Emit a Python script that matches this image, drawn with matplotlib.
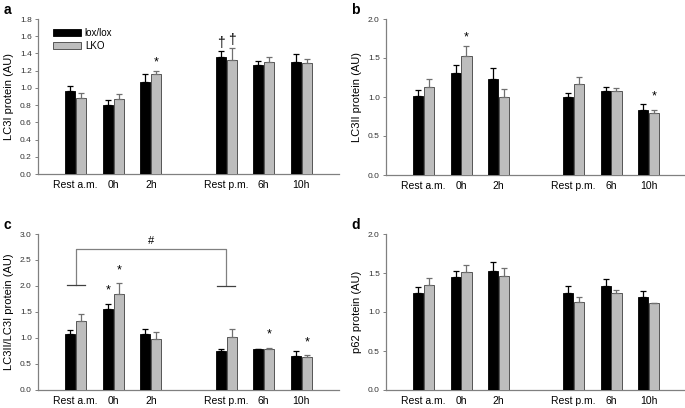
import matplotlib.pyplot as plt
import numpy as np

plt.rcParams['font.family'] = ['Liberation Sans', 'DejaVu Sans']

# kategorie na osi x (pozycje 0,1,2 i 4,5,6 - przerwa miedzy a.m. i p.m.)
kategorie = ['Rest a.m.', '0h', '2h', 'Rest p.m.', '6h', '10h']
pozycje = [0, 1, 2, 4, 5, 6]

# panel a - LC3I
a_lox = [0.966, 0.803, 1.074, 1.356, 1.267, 1.306]
a_lox_err = [0.058, 0.058, 0.085, 0.069, 0.050, 0.088]
a_lko = [0.880, 0.873, 1.159, 1.321, 1.298, 1.294]
a_lko_err = [0.060, 0.054, 0.042, 0.139, 0.058, 0.046]

# panel b - LC3II
b_lox = [1.011, 1.306, 1.225, 0.994, 1.071, 0.827]
b_lox_err = [0.085, 0.107, 0.141, 0.060, 0.051, 0.085]
b_lko = [1.122, 1.529, 0.994, 1.161, 1.071, 0.792]
b_lko_err = [0.103, 0.120, 0.107, 0.098, 0.042, 0.047]

# panel c - LC3II/LC3I
c_lox = [1.073, 1.554, 1.085, 0.751, 0.784, 0.655]
c_lox_err = [0.083, 0.109, 0.097, 0.045, 0.012, 0.090]
c_lko = [1.329, 1.843, 0.976, 1.028, 0.784, 0.629]
c_lko_err = [0.135, 0.212, 0.135, 0.141, 0.025, 0.039]

# panel d - p62
d_lox = [1.250, 1.443, 1.520, 1.238, 1.336, 1.195]
d_lox_err = [0.069, 0.082, 0.120, 0.098, 0.086, 0.068]
d_lko = [1.345, 1.507, 1.460, 1.131, 1.238, 1.118]
d_lko_err = [0.090, 0.095, 0.103, 0.059, 0.047, 0.0]

SZARY = '#bdbdbd'
OS = '#808080'
W = 0.27


def panel(ax, lox, lox_err, lko, lko_err, ymax, krok, ylabel, litera):
    x = np.array(pozycje, dtype=float)
    ax.bar(x - W / 2 - 0.01, lox, W, color='black', edgecolor='black', linewidth=0.6,
           yerr=[np.zeros(6), lox_err], error_kw=dict(ecolor='black', elinewidth=0.9,
                                                    capsize=2.5, capthick=0.9),
           label='lox/lox', zorder=3)
    ax.bar(x + W / 2 + 0.01, lko, W, color=SZARY, edgecolor='#404040', linewidth=0.6,
           yerr=[np.zeros(6), lko_err], error_kw=dict(ecolor='#707070', elinewidth=0.9,
                                                    capsize=2.5, capthick=0.9),
           label='LKO', zorder=3)
    ax.set_xlim(-1, 7)
    ax.set_ylim(0, ymax)
    ticki = np.arange(0, ymax + 1e-9, krok)
    ax.set_yticks(ticki)
    ax.set_yticklabels([f'{v:.1f}' for v in ticki], fontsize=6, color='#333333')
    ax.set_xticks(pozycje)
    ax.set_xticklabels(kategorie, fontsize=7.5)
    ax.tick_params(axis='x', length=0, pad=4)
    ax.tick_params(axis='y', length=2.5, width=0.7, color=OS, pad=2)
    for s in ['top', 'right']:
        ax.spines[s].set_visible(False)
    for s in ['left', 'bottom']:
        ax.spines[s].set_color(OS)
        ax.spines[s].set_linewidth(0.9)
    ax.set_ylabel(ylabel, fontsize=8, labelpad=4)
    ax.text(-0.115, 1.10, litera, transform=ax.transAxes, fontsize=10,
            fontweight='bold', va='top', ha='left')


fig = plt.figure(figsize=(6.85, 4.08), dpi=100)
ax_a = fig.add_axes([38 / 685, 1 - 174 / 408, 301 / 685, 155 / 408])
ax_b = fig.add_axes([386 / 685, 1 - 175 / 408, 300 / 685, 156 / 408])
ax_c = fig.add_axes([38 / 685, 1 - 390 / 408, 301 / 685, 156 / 408])
ax_d = fig.add_axes([386 / 685, 1 - 390 / 408, 300 / 685, 156 / 408])

panel(ax_a, a_lox, a_lox_err, a_lko, a_lko_err, 1.8, 0.2, 'LC3I protein (AU)', 'a')
panel(ax_b, b_lox, b_lox_err, b_lko, b_lko_err, 2.0, 0.5, 'LC3II protein (AU)', 'b')
panel(ax_c, c_lox, c_lox_err, c_lko, c_lko_err, 3.0, 0.5, 'LC3II/LC3I protein (AU)', 'c')
panel(ax_d, d_lox, d_lox_err, d_lko, d_lko_err, 2.0, 0.5, 'p62 protein (AU)', 'd')

ax_a.legend(loc='upper left', bbox_to_anchor=(0.02, 1.0), fontsize=7, frameon=False,
            handlelength=2.9, handleheight=0.8, labelspacing=0.3, handletextpad=0.4)

# gwiazdki i sztylety
dx = W / 2 + 0.01
ax_a.text(2 + dx, 1.29, '*', ha='center', va='center', fontsize=9)
ax_a.text(4 - dx, 1.52, '†', ha='center', va='center', fontsize=10)
ax_a.text(4 + dx, 1.56, '†', ha='center', va='center', fontsize=10)
ax_b.text(1 + dx, 1.77, '*', ha='center', va='center', fontsize=9)
ax_b.text(6 + dx, 1.01, '*', ha='center', va='center', fontsize=9)
ax_c.text(1 - dx, 1.92, '*', ha='center', va='center', fontsize=9)
ax_c.text(1 + dx, 2.29, '*', ha='center', va='center', fontsize=9)
ax_c.text(5 + dx, 1.06, '*', ha='center', va='center', fontsize=9)
ax_c.text(6 + dx, 0.92, '*', ha='center', va='center', fontsize=9)

# klamra z #
ax_c.plot([0, 0, 4, 4], [2.01, 2.71, 2.71, 2.01], color=OS, lw=0.9)
ax_c.plot([-0.24, 0.24], [2.01, 2.01], color='#404040', lw=0.9)
ax_c.plot([3.76, 4.24], [2.0, 2.0], color='#404040', lw=0.9)
ax_c.text(2, 2.86, '#', ha='center', va='center', fontsize=8)

plt.savefig('out.png', dpi=100)
